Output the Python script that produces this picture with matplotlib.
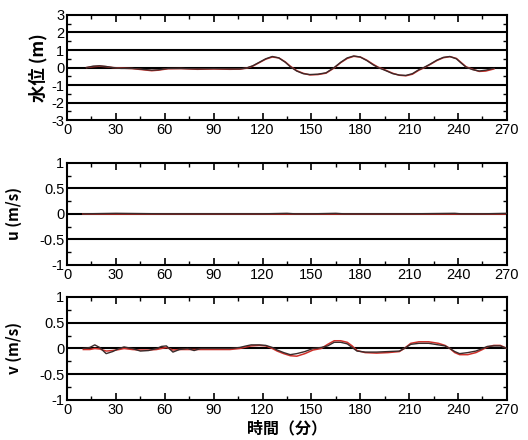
import matplotlib
matplotlib.use("Agg")
import matplotlib.pyplot as plt
from matplotlib.ticker import MultipleLocator

plt.rcParams["font.family"] = ["Liberation Sans Narrow", "Liberation Sans", "DejaVu Sans"]

# water level (m)
t_eta = [12, 16, 20, 24, 28, 33, 40, 46, 52, 56, 62, 70, 80, 90, 100, 106, 110, 114, 118, 122, 126, 130,
         134, 137, 141, 145, 149, 154, 159, 164, 168, 172, 176, 180, 184, 188, 191, 195, 200, 204, 208,
         212, 216, 219, 223, 227, 231, 235, 239, 242, 245, 249, 253, 257, 262]
eta_obs = [0.0, 0.08, 0.1, 0.06, 0.0, -0.05, -0.05, -0.1, -0.15, -0.13, -0.05, -0.05, -0.08, -0.06, -0.08,
           -0.08, -0.03, 0.1, 0.3, 0.5, 0.63, 0.55, 0.3, 0.05, -0.2, -0.35, -0.4, -0.38, -0.3, 0.0, 0.3,
           0.55, 0.66, 0.6, 0.4, 0.15, 0.0, -0.15, -0.35, -0.43, -0.45, -0.35, -0.12, 0.0, 0.2, 0.42, 0.58,
           0.63, 0.5, 0.25, 0.02, -0.12, -0.2, -0.15, -0.05]
eta_sim = [0.0, 0.05, 0.08, 0.05, 0.0, -0.03, -0.06, -0.12, -0.18, -0.15, -0.07, -0.06, -0.1, -0.08,
           -0.1, -0.09, -0.04, 0.08, 0.28, 0.48, 0.6, 0.55, 0.32, 0.08, -0.18, -0.33, -0.42, -0.4, -0.32,
           -0.02, 0.28, 0.52, 0.64, 0.6, 0.42, 0.18, 0.02, -0.13, -0.33, -0.44, -0.47, -0.38, -0.15, -0.02,
           0.18, 0.4, 0.56, 0.62, 0.52, 0.28, 0.04, -0.1, -0.22, -0.2, -0.08]

# u (m/s)
t_u = [10, 30, 60, 90, 120, 135, 140, 150, 165, 170, 180, 210, 238, 242, 255, 270]
u_obs = [0.0, 0.01, 0.0, 0.0, 0.0, 0.01, 0.0, 0.0, 0.01, 0.0, 0.0, 0.0, 0.01, 0.0, 0.0, 0.01]
u_sim = [-0.01, -0.01, -0.01, -0.01, -0.01, -0.01, -0.01, -0.01, -0.01, -0.01, -0.01, -0.01, -0.01,
         -0.01, -0.01, -0.01]

# v (m/s)
t_v = [10, 14, 17, 20, 24, 28, 32, 35, 40, 45, 50, 55, 58, 61, 65, 69, 74, 78, 82, 90, 100, 106, 110,
       113, 118, 122, 126, 129, 133, 137, 141, 146, 151, 156, 160, 164, 168, 172, 175, 178, 183, 190,
       197, 204, 207, 211, 216, 222, 228, 232, 235, 238, 241, 246, 251, 255, 258, 262, 266, 270]
v_obs = [0.0, 0.02, 0.07, 0.02, -0.1, -0.06, 0.0, 0.03, 0.0, -0.05, -0.04, 0.0, 0.04, 0.05, -0.07, -0.02,
         0.0, -0.04, 0.0, 0.0, 0.0, 0.02, 0.05, 0.07, 0.07, 0.06, 0.02, -0.03, -0.08, -0.12, -0.1, -0.06,
         0.0, 0.02, 0.05, 0.12, 0.12, 0.09, 0.02, -0.05, -0.07, -0.07, -0.06, -0.05, 0.0, 0.08, 0.1, 0.1,
         0.07, 0.05, 0.0, -0.06, -0.1, -0.08, -0.05, 0.0, 0.04, 0.05, 0.05, 0.0]
v_sim = [-0.02, -0.02, 0.0, -0.01, -0.05, -0.04, -0.02, 0.0, -0.02, -0.03, -0.03, -0.02, 0.0, 0.02,
         -0.03, -0.02, -0.02, -0.02, -0.02, -0.02, -0.02, 0.0, 0.03, 0.05, 0.06, 0.05, 0.0, -0.05, -0.1,
         -0.14, -0.15, -0.1, -0.03, 0.0, 0.08, 0.15, 0.15, 0.12, 0.05, -0.04, -0.08, -0.09, -0.08, -0.06,
         0.0, 0.1, 0.13, 0.13, 0.1, 0.06, 0.0, -0.08, -0.12, -0.12, -0.08, -0.02, 0.03, 0.06, 0.06, 0.0]

x_ticks = [0, 30, 60, 90, 120, 150, 180, 210, 240, 270]

panels = [
    (t_eta, eta_obs, eta_sim, "水位 (m)", (-3, 3), 1, 0.5, [-2, -1, 0, 1, 2], 12.5, 3),
    (t_u, u_obs, u_sim, "u (m/s)", (-1, 1), 0.5, 0.25, [-0.5, 0, 0.5], 11, 12),
    (t_v, v_obs, v_sim, "v (m/s)", (-1, 1), 0.5, 0.25, [-0.5, 0, 0.5], 11, 12),
]
positions = [
    [0.127, 0.727, 0.833, 0.239],
    [0.127, 0.398, 0.833, 0.232],
    [0.127, 0.091, 0.833, 0.234],
]

fig = plt.figure(figsize=(5.28, 4.4), dpi=100)
for (t, obs, sim, label, ylim, major, minor, hlines, lsize, lpad), pos in zip(panels, positions):
    ax = fig.add_axes(pos)
    for h in hlines:
        ax.axhline(h, color="black", linewidth=1.5, zorder=1)
    ax.plot(t, sim, color="#d0302a", linewidth=1.1, zorder=2)
    ax.plot(t, obs, color="#3a2a2a", linewidth=1.0, zorder=3)
    ax.set_xlim(0, 270)
    ax.set_ylim(*ylim)
    ax.set_xticks(x_ticks)
    ax.xaxis.set_minor_locator(MultipleLocator(15))
    ax.yaxis.set_major_locator(MultipleLocator(major))
    ax.yaxis.set_minor_locator(MultipleLocator(minor))
    ax.yaxis.set_major_formatter(plt.FuncFormatter(lambda v, p: ("%g" % v)))
    ax.tick_params(which="both", direction="in", top=True, right=True, labelsize=10.5, pad=2)
    ax.tick_params(which="major", length=5, width=1.2)
    ax.tick_params(which="minor", length=3, width=1.0)
    for s in ax.spines.values():
        s.set_linewidth(1.5)
    ax.set_ylabel(label, fontsize=lsize, fontweight="bold", labelpad=lpad,
                  family=["Noto Sans CJK JP", "DejaVu Sans"])

ax.set_xlabel("時間（分）", fontsize=11.5, fontweight="bold", labelpad=3,
              family=["Noto Sans CJK JP", "DejaVu Sans"])

fig.savefig("out.png", dpi=100)
